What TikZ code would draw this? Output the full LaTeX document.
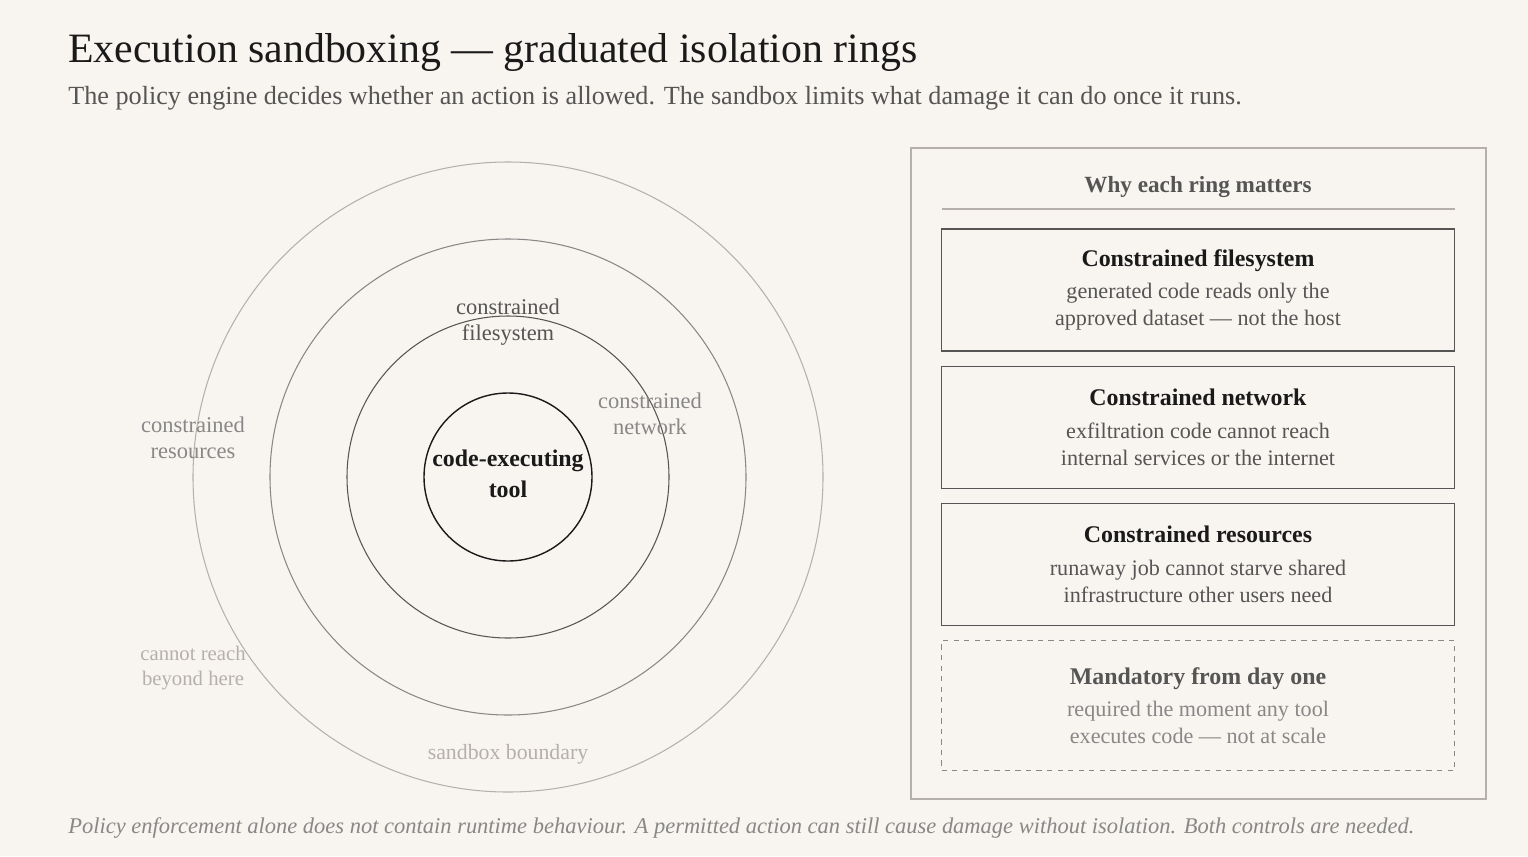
\documentclass[tikz,border=0pt]{standalone}
\usepackage{fontspec}
\setmainfont{Liberation Serif}
\usepackage{xcolor}
\usetikzlibrary{positioning}
\definecolor{paper}{HTML}{F8F4EF}
\definecolor{ink}{HTML}{1A1A1A}
\definecolor{mid}{HTML}{555555}
\definecolor{soft}{HTML}{888888}
\definecolor{faint}{HTML}{B5B0AA}

\begin{document}
\begin{tikzpicture}[x=0.02cm, y=-0.02cm]
\tikzstyle{ringlabel} = [align=center, font=\fontsize{12.8}{15}\selectfont]
\tikzstyle{card} = [draw=mid, line width=0.7pt, minimum width=10.26cm, minimum height=2.44cm, align=center, font=\fontsize{12.6}{15.5}\selectfont, text=mid]
\fill[paper] (0,0) rectangle (1528,856);
\useasboundingbox (0,0) rectangle (1528,856);

% heading
\node (title) [anchor=base west, inner sep=0pt, font=\fontsize{23.8}{26}\selectfont, text=ink] at (68,62) {Execution sandboxing --- graduated isolation rings};
\node (sub) [anchor=base west, inner sep=0pt, font=\fontsize{14.9}{16}\selectfont, text=mid] at (68,104) {The policy engine decides whether an action is allowed. The sandbox limits what damage it can do once it runs.};

% rings
\coordinate (c) at (508,477);
\draw[faint, line width=0.6pt] (c) circle (315*0.02cm);
\draw[soft, line width=0.6pt] (c) circle (238*0.02cm);
\draw[mid, line width=0.6pt] (c) circle (161*0.02cm);
\draw[ink, line width=0.8pt] (c) circle (84*0.02cm);

\node (core) [ringlabel, font=\bfseries\fontsize{13.6}{17.5}\selectfont, text=ink] at (508,474) {code-executing\\tool};
\node (fs) [ringlabel, text=mid] at (508,322) {constrained\\filesystem};
\node (net) [ringlabel, text=soft] at (650,414) {constrained\\network};
\node (res) [ringlabel, text=soft] at (193,438) {constrained\\resources};
\node (reach) [ringlabel, font=\fontsize{11.8}{14.5}\selectfont, text=faint] at (193,668) {cannot reach\\beyond here};
\node (bound) [ringlabel, font=\fontsize{12.4}{14}\selectfont, text=faint] at (508,754) {sandbox boundary};

% panel
\draw[faint, line width=0.6pt] (911,148) rectangle (1486,799);
\node (why) [font=\bfseries\fontsize{13.2}{14}\selectfont, text=mid] at (1198,187) {Why each ring matters};
\draw[faint, line width=0.6pt] (942,209) -- (1455,209);

\node (fsbox) [card] at (1198,290) {{\bfseries\fontsize{13.6}{18}\selectfont\color{ink}Constrained filesystem}\\[3pt]generated code reads only the\\approved dataset --- not the host};
\node (netbox) [card, below=0.28cm of fsbox] {{\bfseries\fontsize{13.6}{18}\selectfont\color{ink}Constrained network}\\[3pt]exfiltration code cannot reach\\internal services or the internet};
\node (resbox) [card, below=0.28cm of netbox] {{\bfseries\fontsize{13.6}{18}\selectfont\color{ink}Constrained resources}\\[3pt]runaway job cannot starve shared\\infrastructure other users need};
\node (daybox) [card, draw=soft, dashed, text=soft, minimum height=2.6cm, below=0.28cm of resbox] {{\bfseries\fontsize{13.6}{18}\selectfont\color{mid}Mandatory from day one}\\[3pt]required the moment any tool\\executes code --- not at scale};

% footer
\node (foot) [anchor=base west, inner sep=0pt, font=\itshape\fontsize{12.8}{14}\selectfont, text=soft] at (68,833) {Policy enforcement alone does not contain runtime behaviour. A permitted action can still cause damage without isolation. Both controls are needed.};
\end{tikzpicture}
\end{document}
